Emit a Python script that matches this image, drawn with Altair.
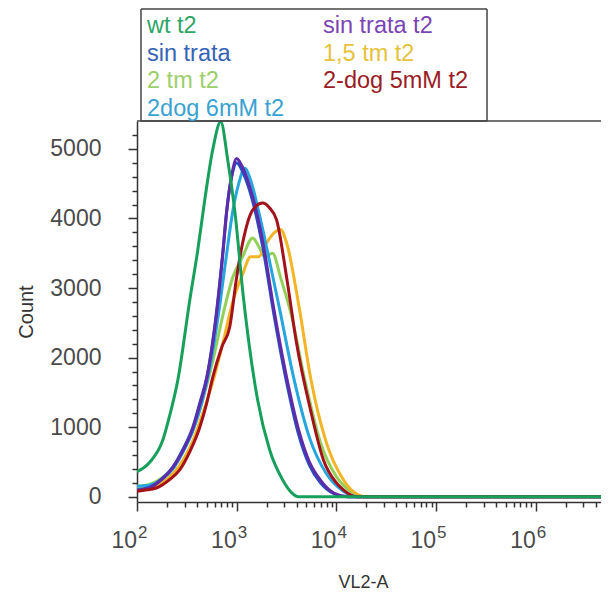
import altair as alt
import pandas as pd

# ---- data (log10 of VL2-A, count) ----
wt_t2_log = [2.00, 2.13, 2.26, 2.33, 2.41, 2.53, 2.61, 2.68, 2.76, 2.84, 2.91, 2.98, 3.07, 3.21, 3.33, 3.46, 3.55, 3.62, 6.74]
wt_t2_cnt = [360, 500, 820, 1180, 1680, 2830, 3550, 4270, 4990, 5390, 4840, 4120, 2830, 1390, 675, 245, 60, 0, 0]

sin_trata_log = [2.00, 2.13, 2.25, 2.36, 2.46, 2.56, 2.63, 2.70, 2.80, 2.86, 2.90, 2.95, 3.00, 3.05, 3.13, 3.26, 3.37, 3.50, 3.62, 3.73, 3.84, 3.98, 4.10, 6.74]
sin_trata_cnt = [100, 140, 260, 430, 680, 1000, 1350, 1720, 2690, 3500, 4120, 4600, 4800, 4700, 4400, 3600, 2650, 1650, 900, 450, 200, 40, 0, 0]

sin_trata_t2_log = [2.00, 2.13, 2.25, 2.36, 2.46, 2.56, 2.63, 2.70, 2.80, 2.86, 2.90, 2.95, 3.00, 3.05, 3.13, 3.26, 3.37, 3.50, 3.62, 3.73, 3.84, 3.98, 4.12, 6.74]
sin_trata_t2_cnt = [90, 130, 250, 420, 660, 980, 1320, 1700, 2650, 3480, 4100, 4620, 4860, 4760, 4460, 3680, 2720, 1720, 970, 500, 240, 50, 0, 0]

dog6_log = [2.00, 2.13, 2.25, 2.36, 2.46, 2.56, 2.65, 2.73, 2.82, 2.90, 2.96, 3.02, 3.08, 3.14, 3.22, 3.32, 3.43, 3.57, 3.73, 3.90, 4.06, 4.22, 6.74]
dog6_cnt = [150, 170, 250, 400, 640, 950, 1350, 1850, 2650, 3500, 4100, 4500, 4720, 4550, 4100, 3450, 2700, 1720, 850, 330, 90, 0, 0]

dog5_log = [2.00, 2.10, 2.20, 2.33, 2.43, 2.53, 2.63, 2.70, 2.76, 2.85, 2.93, 3.00, 3.06, 3.16, 3.26, 3.33, 3.40, 3.50, 3.60, 3.74, 3.87, 4.00, 4.07, 4.20, 6.74]
dog5_cnt = [80, 100, 130, 250, 390, 650, 1000, 1350, 1720, 2150, 2440, 3160, 3650, 4120, 4220, 4150, 3980, 3160, 2210, 1250, 530, 200, 100, 0, 0]

tm2_log = [2.00, 2.13, 2.25, 2.36, 2.46, 2.56, 2.66, 2.76, 2.86, 2.96, 3.06, 3.16, 3.22, 3.28, 3.36, 3.44, 3.55, 3.68, 3.84, 4.00, 4.14, 4.26, 6.74]
tm2_cnt = [150, 180, 270, 420, 650, 950, 1400, 1950, 2600, 3150, 3450, 3720, 3600, 3450, 3500, 3150, 2600, 1700, 780, 290, 80, 0, 0]

tm15_log = [2.00, 2.13, 2.25, 2.36, 2.46, 2.56, 2.66, 2.76, 2.86, 2.96, 3.06, 3.14, 3.22, 3.30, 3.38, 3.44, 3.50, 3.63, 3.74, 3.90, 4.05, 4.18, 4.30, 6.74]
tm15_cnt = [130, 120, 200, 330, 520, 800, 1200, 1650, 2200, 2800, 3200, 3450, 3450, 3650, 3800, 3840, 3650, 2690, 1720, 775, 290, 60, 0, 0]

series_names = ["2 tm t2", "1,5 tm t2", "2dog 6mM t2", "sin trata", "sin trata t2", "2-dog 5mM t2", "wt t2"]
series_logs = [tm2_log, tm15_log, dog6_log, sin_trata_log, sin_trata_t2_log, dog5_log, wt_t2_log]
series_cnts = [tm2_cnt, tm15_cnt, dog6_cnt, sin_trata_cnt, sin_trata_t2_cnt, dog5_cnt, wt_t2_cnt]
line_colors = ["#92d05a", "#f3b426", "#26a6de", "#2450c4", "#5e2ca8", "#a3121a", "#17a05c"]

# legend entries (column-wise as in the reference)
legend_labels = ["wt t2", "sin trata", "2 tm t2", "2dog 6mM t2", "sin trata t2", "1,5 tm t2", "2-dog 5mM t2"]
legend_colors = ["#2ea566", "#3563b5", "#9ccf6a", "#3aa2d2", "#7a45b2", "#e6c23c", "#9a1d26"]
legend_col = [0, 0, 0, 0, 1, 1, 1]
legend_row = [0, 1, 2, 3, 0, 1, 2]

# x tick labels: 10^k
decade_values = [100, 1000, 10000, 100000, 1000000]
decade_base = ["10", "10", "10", "10", "10"]
decade_exp = ["2", "3", "4", "5", "6"]

y_tick_values = list(range(0, 5400, 200))
x_tick_values = [100, 200, 300, 400, 500, 600, 700, 800, 900,
                 1000, 2000, 3000, 4000, 5000, 6000, 7000, 8000, 9000,
                 10000, 20000, 30000, 40000, 50000, 60000, 70000, 80000, 90000,
                 100000, 200000, 300000, 400000, 500000, 600000, 700000, 800000, 900000,
                 1000000, 2000000, 3000000, 4000000]

W, H = 464, 381
XMAX = 10 ** (2 + 464 / 99.7)

rows = []
for name, logs, cnts in zip(series_names, series_logs, series_cnts):
    for l, c in zip(logs, cnts):
        rows.append({"series": name, "vl2a": 10 ** l, "count": c})
df = pd.DataFrame(rows)

leg = pd.DataFrame({
    "label": legend_labels,
    "tcolor": legend_colors,
    "lx": [10 + 176 * c for c in legend_col],
    "ly": [-88 + 27.5 * r for r in legend_row],
})

decades = pd.DataFrame({"vl2a": decade_values, "base": decade_base, "exp": decade_exp})

# frame lines (pixel positions relative to the plot area): legend box + top border
frame = pd.DataFrame({
    "x1": [4, 4, 350, 4, 0],
    "x2": [350, 4, 350, 350, W],
    "y1": [-112, -112, -112, 0, 0],
    "y2": [-112, 0, 0, 0, 0],
})

font = "Liberation Sans"
txt = "#4a4a4a"

x_scale = alt.Scale(type="log", domain=[100, XMAX], nice=False)

x_axis = alt.Axis(
    values=x_tick_values,
    labels=False,
    tickSize=alt.condition("datum.value == 100 || datum.value == 1000 || datum.value == 10000 || datum.value == 100000 || datum.value == 1000000", alt.value(9), alt.value(5)),
    grid=False,
    domainColor="#333333", domainWidth=1.5, tickColor="#333333", tickWidth=1.5,
    title="VL2-A", titleFontSize=18, titleFont=font, titleFontWeight="normal", titleColor="#333333",
    titlePadding=62, titleX=226,
)
y_axis = alt.Axis(
    values=y_tick_values,
    labelExpr="datum.value % 1000 == 0 ? datum.value : ''",
    tickSize=alt.condition("datum.value % 1000 == 0", alt.value(9), alt.value(5)),
    grid=False, labelOverlap=False,
    labelFontSize=23, labelFont=font, labelColor=txt, labelPadding=27,
    domainColor="#333333", domainWidth=1.5, tickColor="#333333", tickWidth=1.5,
    title="Count", titleFontSize=20, titleFont=font, titleFontWeight="normal", titleColor="#333333", titlePadding=13,
)

x_enc = alt.X("vl2a:Q", scale=x_scale, axis=x_axis)
y_enc = alt.Y("count:Q", scale=alt.Scale(domain=[-75, 5400], nice=False, zero=False), axis=y_axis)

layers = []
for name, col in zip(series_names, line_colors):
    layers.append(
        alt.Chart(df).transform_filter(alt.datum.series == name)
        .mark_line(strokeWidth=3, color=col, clip=True, interpolate="monotone")
        .encode(x=x_enc, y=y_enc)
    )

frame_lines = alt.Chart(frame).mark_rule(color="#444444", strokeWidth=1.5).encode(
    x=alt.X("x1:Q", scale=None, axis=None),
    x2="x2:Q",
    y=alt.Y("y1:Q", scale=None, axis=None),
    y2="y2:Q",
)
legend_text = alt.Chart(leg).mark_text(align="left", baseline="alphabetic", fontSize=23.5, font=font).encode(
    x=alt.X("lx:Q", scale=None, axis=None),
    y=alt.Y("ly:Q", scale=None, axis=None),
    text="label:N",
    color=alt.Color("tcolor:N", scale=None, legend=None),
)

dec_base = alt.Chart(decades).mark_text(align="right", baseline="alphabetic", fontSize=23, font=font, color=txt).encode(
    x=alt.X("vl2a:Q", scale=x_scale, axis=x_axis),
    y=alt.value(H + 46),
    text="base:N",
)
dec_exp = alt.Chart(decades).mark_text(align="left", baseline="alphabetic", fontSize=17, font=font, color=txt, dx=1).encode(
    x=alt.X("vl2a:Q", scale=x_scale, axis=x_axis),
    y=alt.value(H + 36),
    text="exp:N",
)

chart = alt.layer(*layers, frame_lines, legend_text, dec_base, dec_exp).properties(
    width=W, height=H,
    autosize=alt.AutoSizeParams(type="none"),
    padding={"left": 129, "top": 113, "right": 0, "bottom": 90},
    background="white",
).configure_view(stroke=None)

chart.save("out.html", embed_options={"renderer": "svg", "actions": False})
